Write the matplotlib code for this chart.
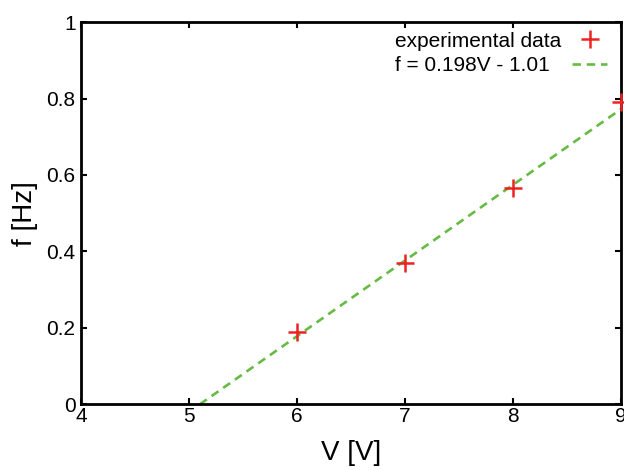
import matplotlib
matplotlib.use("Agg")
import matplotlib.pyplot as plt
import numpy as np

voltage = [6, 7, 8, 9]
frequency = [0.19, 0.37, 0.565, 0.79]
fit_slope = 0.198
fit_intercept = -1.01
fit_range = [5.1, 9.0]

plt.rcParams["font.family"] = ["Liberation Sans", "DejaVu Sans"]

fig = plt.figure(figsize=(6.24, 4.70), dpi=100)
ax = fig.add_axes([0.13, 0.14, 0.865, 0.813])

v_fit = np.array(fit_range)
ax.plot(v_fit, fit_slope * v_fit + fit_intercept, linestyle=(0, (3.2, 2.2)),
        color="#66bb44", linewidth=1.9, label="f = 0.198V - 1.01", zorder=2)
ax.plot(voltage, frequency, linestyle="none", marker="+", markersize=13,
        markeredgewidth=1.8, color="#ee2222", label="experimental data",
        clip_on=False, zorder=3)

ax.set_xlim(4, 9)
ax.set_ylim(0, 1)
ax.set_xticks([4, 5, 6, 7, 8, 9])
ax.set_yticks([0, 0.2, 0.4, 0.6, 0.8, 1])
ax.set_yticklabels(["0", "0.2", "0.4", "0.6", "0.8", "1"])
ax.tick_params(direction="in", top=True, right=True, length=4, width=1.5,
               labelsize=15)
ax.tick_params(axis="x", pad=2)
ax.tick_params(axis="y", pad=4)
for s in ax.spines.values():
    s.set_linewidth(2)
ax.set_xlabel("V [V]", fontsize=20, labelpad=10)
ax.set_ylabel("f [Hz]", fontsize=20, labelpad=6)

handles, labels = ax.get_legend_handles_labels()
leg = ax.legend(handles[::-1], labels[::-1], loc="upper right", frameon=False,
                markerfirst=False, fontsize=15, handlelength=1.65,
                handletextpad=0.55, borderpad=0, borderaxespad=0,
                labelspacing=0.27, bbox_to_anchor=(0.974, 0.975))

# left-align legend texts while keeping the handles in one column on the right
fig.canvas.draw()
renderer = fig.canvas.get_renderer()
try:
    rows = leg._legend_handle_box.get_children()[0].get_children()
    widths = [r.get_children()[0].get_bbox(renderer).width for r in rows]
    wmax = max(widths)
    for r, w in zip(rows, widths):
        r.sep += (wmax - w) * 72.0 / fig.dpi
except Exception:
    pass

fig.savefig("out.png", dpi=100)
